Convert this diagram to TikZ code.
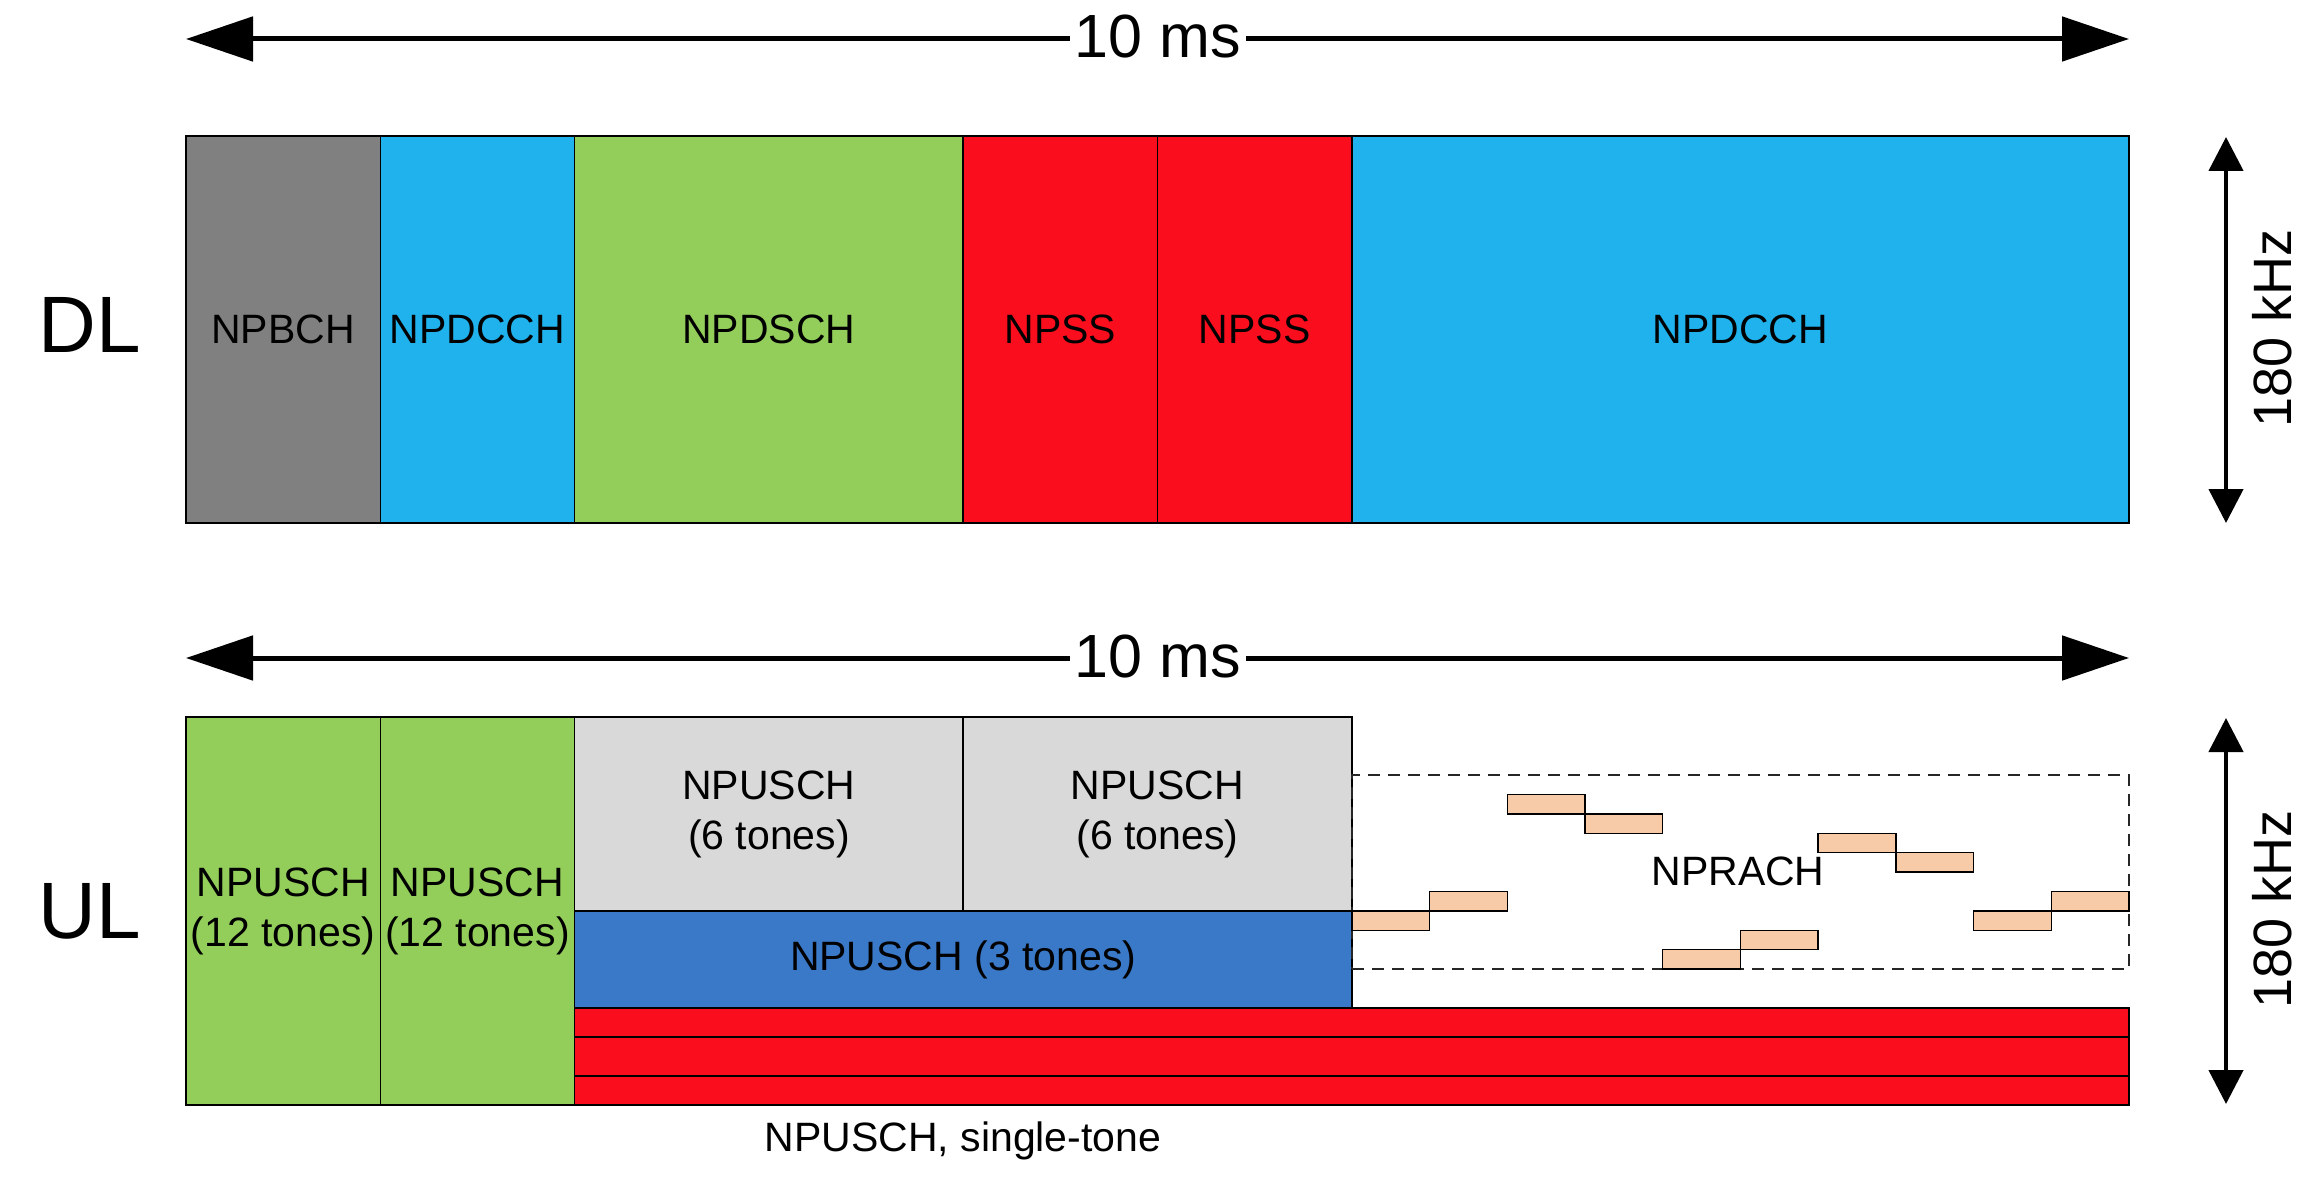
\documentclass[tikz,border=0pt]{standalone}
\usepackage{fontspec}
\setmainfont{Liberation Sans}
\usetikzlibrary{arrows.meta}
\definecolor{cgray}{RGB}{128,128,128}
\definecolor{ccyan}{RGB}{32,178,236}
\definecolor{cgreen}{RGB}{148,206,90}
\definecolor{cred}{RGB}{250,14,30}
\definecolor{clight}{RGB}{217,217,217}
\definecolor{cblue}{RGB}{58,120,200}
\definecolor{cpeach}{RGB}{248,203,168}
\begin{document}
\begin{tikzpicture}[x=1pt,y=-1pt,
  blk/.style={draw=black,line width=1.6pt,rectangle,inner sep=0pt,outer sep=0pt,anchor=north west,align=center,
    font=\fontsize{41}{50}\selectfont},
  prachbox/.style={draw=black,line width=1.4pt,fill=cpeach,rectangle,inner sep=0pt,outer sep=0pt,anchor=north west,
    minimum width=77.72pt,minimum height=19.4pt},
  harrow/.style={line width=5pt,-{Triangle[length=67pt,width=44pt]}},
  varrow/.style={line width=4.5pt,{Triangle[length=34pt,width=34pt]}-{Triangle[length=34pt,width=34pt]}},
  biglabel/.style={font=\fontsize{80}{90}\selectfont,inner sep=0pt},
  mslabel/.style={font=\fontsize{61}{70}\selectfont,inner sep=0pt,anchor=base},
  khz/.style={font=\fontsize{54}{60}\selectfont,inner sep=0pt,rotate=90},
  txt/.style={font=\fontsize{41}{50}\selectfont,inner sep=0pt}
]
\useasboundingbox (0,0) rectangle (2324,1182);

% ---------- top time arrow ----------
\coordinate (dlL) at (186,39);
\coordinate (dlR) at (2129,39);
\node[mslabel] (msA) at (1158,58) {10 ms};
\draw[harrow] ([xshift=-5pt]msA.west |- dlL) -- (dlL);
\draw[harrow] ([xshift=5pt]msA.east |- dlR) -- (dlR);

% ---------- DL ----------
\node[biglabel] (dl) at (90,325) {DL};
\node[blk,fill=cgray,minimum width=194.3pt,minimum height=387pt] (bch) at (186,136) {NPBCH};
\node[blk,fill=ccyan,minimum width=194.3pt,minimum height=387pt] (dcchA) at (380.3,136) {NPDCCH};
\node[blk,fill=cgreen,minimum width=388.6pt,minimum height=387pt] (dsch) at (574.6,136) {NPDSCH};
\node[blk,fill=cred,minimum width=194.3pt,minimum height=387pt] (pssA) at (963.2,136) {NPSS};
\node[blk,fill=cred,minimum width=194.3pt,minimum height=387pt] (pssB) at (1157.5,136) {NPSS};
\node[blk,fill=ccyan,minimum width=777.2pt,minimum height=387pt] (dcchB) at (1351.8,136) {NPDCCH};

\coordinate (fdT) at (2226,137);
\coordinate (fdB) at (2226,523);
\draw[varrow] (fdT) -- (fdB);
\node[khz] (khzA) at (2272,328) {180 kHz};

% ---------- UL time arrow ----------
\coordinate (ulL) at (186,658);
\coordinate (ulR) at (2129,658);
\node[mslabel] (msB) at (1158,677) {10 ms};
\draw[harrow] ([xshift=-5pt]msB.west |- ulL) -- (ulL);
\draw[harrow] ([xshift=5pt]msB.east |- ulR) -- (ulR);

% ---------- UL ----------
\node[biglabel] (ul) at (90,911) {UL};
\node[blk,fill=cgreen,minimum width=194.3pt,minimum height=388pt] (gA) at (186,717) {NPUSCH\\(12 tones)};
\node[blk,fill=cgreen,minimum width=194.3pt,minimum height=388pt] (gB) at (380.3,717) {NPUSCH\\(12 tones)};
\node[blk,fill=clight,minimum width=388.6pt,minimum height=194pt] (sixA) at (574.6,717) {NPUSCH\\(6 tones)};
\node[blk,fill=clight,minimum width=388.6pt,minimum height=194pt] (sixB) at (963.2,717) {NPUSCH\\(6 tones)};
\node[blk,fill=cblue,minimum width=777.2pt,minimum height=97pt] (three) at (574.6,911) {NPUSCH (3 tones)};
\node[blk,fill=cred,minimum width=1554.4pt,minimum height=29pt] (rA) at (574.6,1008) {};
\node[blk,fill=cred,minimum width=1554.4pt,minimum height=39pt] (rB) at (574.6,1037) {};
\node[blk,fill=cred,minimum width=1554.4pt,minimum height=29pt] (rC) at (574.6,1076) {};
\node[txt] (single) at (963,1141) {NPUSCH, single-tone};

% NPRACH region
\node[draw=black!85,line width=1.4pt,dash pattern=on 12pt off 8pt,rectangle,inner sep=0pt,outer sep=0pt,anchor=north west,
  minimum width=777.2pt,minimum height=194pt] (prach) at (1351.8,775) {};
\foreach \k/\r in {0/7,1/6,2/1,3/2,4/9,5/8,6/3,7/4,8/7,9/6}
  \node[prachbox] (p\k) at ({1351.8+\k*77.72},{775+\r*19.4}) {};
\node[txt] (prachlbl) at (1738,871) {NPRACH};

\coordinate (fuT) at (2226,718);
\coordinate (fuB) at (2226,1104);
\draw[varrow] (fuT) -- (fuB);
\node[khz] (khzB) at (2272,909) {180 kHz};
\end{tikzpicture}
\end{document}
